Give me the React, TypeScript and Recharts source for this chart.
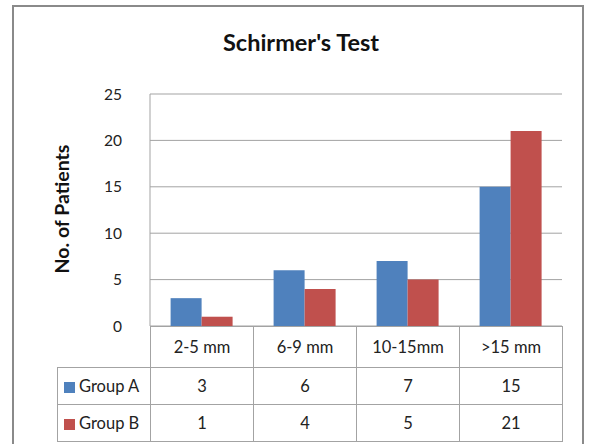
import React from "react";
import { BarChart, Bar, XAxis, YAxis, CartesianGrid } from "recharts";

const categories = ["2-5 mm", "6-9 mm", "10-15mm", ">15 mm"];
const groupA = [3, 6, 7, 15];
const groupB = [1, 4, 5, 21];
const yTicks = [0, 5, 10, 15, 20, 25];

const series = [
	{ key: "groupA", name: "Group A", color: "#4F81BD", values: groupA },
	{ key: "groupB", name: "Group B", color: "#C0504D", values: groupB },
];

const data = categories.map((cat, i) => ({
	cat,
	groupA: groupA[i],
	groupB: groupB[i],
}));

const FONT = "Lato, 'Open Sans', sans-serif";
const GRID = "#a3a3a3";

const cellStyle: React.CSSProperties = {
	border: `1px solid ${GRID}`,
	textAlign: "center",
	padding: 0,
	fontSize: 16.5,
	color: "#222",
};

const App = () => {
	return (
		<div
			style={{
				position: "absolute",
				left: 0,
				top: 0,
				width: 591,
				height: 444,
				background: "#fff",
				fontFamily: FONT,
				overflow: "hidden",
			}}
		>
			{/* chart frame */}
			<div
				style={{
					position: "absolute",
					left: 12,
					top: 5,
					width: 568,
					height: 460,
					border: "2px solid #8a8a8a",
				}}
			/>
			<div
				style={{
					position: "absolute",
					left: 0,
					width: 602,
					top: 28,
					textAlign: "center",
					fontSize: 23.5,
					fontWeight: 700,
					color: "#111",
				}}
			>
				Schirmer's Test
			</div>
			<div
				style={{
					position: "absolute",
					left: 61,
					top: 209,
					transform: "translate(-50%, -50%) rotate(-90deg)",
					whiteSpace: "nowrap",
					fontSize: 19.5,
					fontWeight: 700,
					color: "#111",
				}}
			>
				No. of Patients
			</div>
			<div style={{ position: "absolute", left: 0, top: 0 }}>
				<BarChart
					width={591}
					height={444}
					data={data}
					margin={{ top: 94, right: 29, bottom: 118, left: 100 }}
					barCategoryGap="20%"
					barGap={0}
				>
					<CartesianGrid vertical={false} stroke={GRID} strokeWidth={1} />
					<XAxis dataKey="cat" hide />
					<YAxis
						width={50}
						domain={[0, 25]}
						ticks={yTicks}
						tickLine={false}
						axisLine={{ stroke: GRID }}
						tick={{ fontSize: 15.5, fill: "#222", fontFamily: FONT }}
						tickMargin={22}
						interval={0}
					/>
					{series.map((s) => (
						<Bar
							key={s.key}
							dataKey={s.key}
							name={s.name}
							fill={s.color}
							isAnimationActive={false}
						/>
					))}
				</BarChart>
			</div>
			<table
				style={{
					position: "absolute",
					left: 57,
					top: 326,
					width: 506,
					borderCollapse: "collapse",
					tableLayout: "fixed",
					fontFamily: FONT,
				}}
			>
				<colgroup>
					<col style={{ width: 93 }} />
					{categories.map((c) => (
						<col key={c} style={{ width: 103 }} />
					))}
				</colgroup>
				<tbody>
					<tr style={{ height: 41 }}>
						<td style={{ padding: 0, border: "none", borderRight: `1px solid ${GRID}` }} />
						{categories.map((c) => (
							<td key={c} style={cellStyle}>
								{c}
							</td>
						))}
					</tr>
					{series.map((s) => (
						<tr key={s.key} style={{ height: 37 }}>
							<td style={{ ...cellStyle, textAlign: "left", paddingLeft: 6, whiteSpace: "nowrap" }}>
								<span
									style={{
										display: "inline-block",
										width: 11,
										height: 11,
										background: s.color,
										marginRight: 4,
										verticalAlign: -1,
									}}
								/>
								{s.name}
							</td>
							{s.values.map((v, i) => (
								<td key={i} style={cellStyle}>
									{v}
								</td>
							))}
						</tr>
					))}
				</tbody>
			</table>
		</div>
	);
};

export default App;
